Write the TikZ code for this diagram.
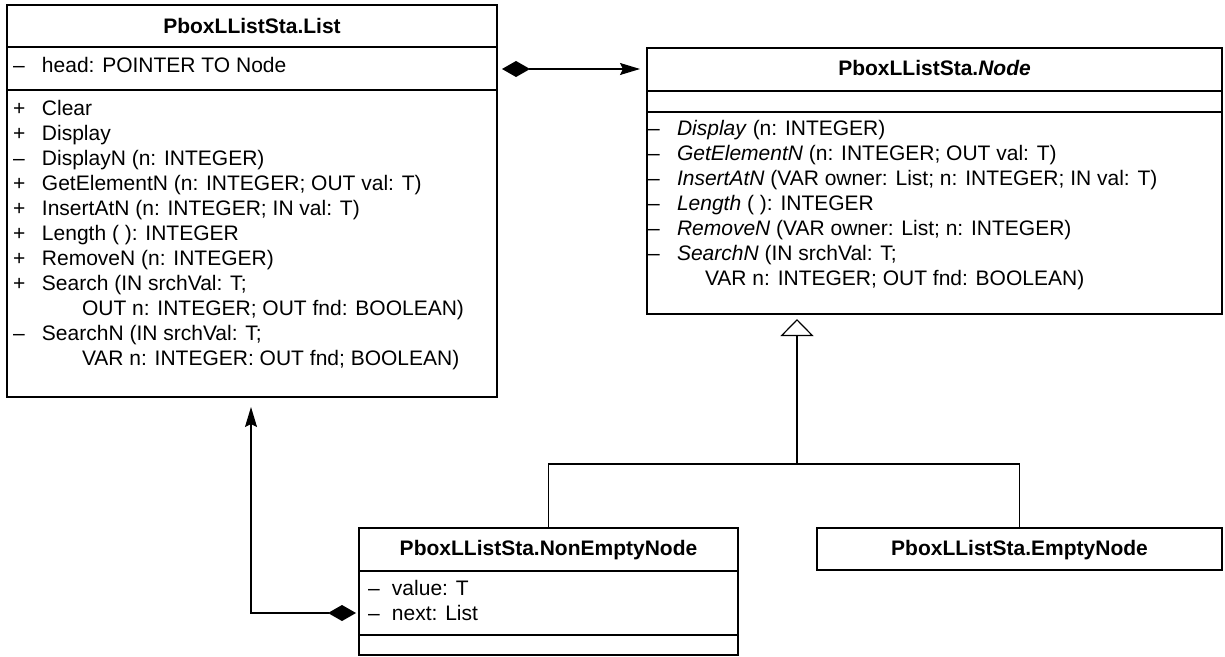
\documentclass[tikz,border=0pt]{standalone}
\usepackage{fontspec}
\setmainfont{Liberation Sans}
\usetikzlibrary{arrows.meta}
\newcommand\mdash{\textendash}
\begin{document}
\begin{tikzpicture}[x=1pt,y=-1pt,
  every node/.style={font=\fontsize{21}{25}\selectfont, inner sep=0pt, outer sep=0pt},
  box/.style={draw, line width=1.3pt, rectangle, inner sep=0pt, outer sep=0pt},
  rule/.style={line width=1.3pt},
  txt/.style={anchor=base west, align=left},
  ttl/.style={anchor=base, font=\fontsize{21}{25}\selectfont\bfseries},
  link/.style={line width=1.2pt},
  comp/.style={link, {Diamond[length=28pt,width=16pt]}-{Stealth[length=20pt,width=12pt,inset=3pt]}},
  gen/.style={link, -{Triangle[open,length=17pt,width=33pt,fill=white]}}
]
\useasboundingbox (0,0) rectangle (1225,656);

% ---- class List ----
\node[box, minimum width=490pt, minimum height=392pt] (List) at (252,201) {};
\draw[rule] ([yshift=-42pt]List.north west) -- ([yshift=-42pt]List.north east);
\draw[rule] ([yshift=-85pt]List.north west) -- ([yshift=-85pt]List.north east);
\node[ttl] (ListT) at (252,33) {PboxLListSta.List};
\node[txt] (ListA) at (13,72) {\begin{tabular}[t]{@{}p{29pt}@{}l@{}}
\mdash & head: POINTER TO Node\end{tabular}};
\node[txt] (ListO) at (13,115) {\begin{tabular}[t]{@{}p{29pt}@{}l@{}}
+ & Clear\\
+ & Display\\
\mdash & DisplayN (n: INTEGER)\\
+ & GetElementN (n: INTEGER; OUT val: T)\\
+ & InsertAtN (n: INTEGER; IN val: T)\\
+ & Length ( ): INTEGER\\
+ & RemoveN (n: INTEGER)\\
+ & Search (IN srchVal: T;\\
  & \hspace*{40pt}OUT n: INTEGER; OUT fnd: BOOLEAN)\\
\mdash & SearchN (IN srchVal: T;\\
  & \hspace*{40pt}VAR n: INTEGER: OUT fnd; BOOLEAN)\end{tabular}};

% ---- abstract class Node ----
\node[box, minimum width=575pt, minimum height=266pt] (Node) at (934.5,181) {};
\draw[rule] ([yshift=-43pt]Node.north west) -- ([yshift=-43pt]Node.north east);
\draw[rule] ([yshift=-64pt]Node.north west) -- ([yshift=-64pt]Node.north east);
\node[ttl] (NodeT) at (934.5,75) {PboxLListSta.\textit{Node}};
\node[txt] (NodeO) at (648,135) {\begin{tabular}[t]{@{}p{29pt}@{}l@{}}
\mdash & \textit{Display} (n: INTEGER)\\
\mdash & \textit{GetElementN} (n: INTEGER; OUT val: T)\\
\mdash & \textit{InsertAtN} (VAR owner: List; n: INTEGER; IN val: T)\\
\mdash & \textit{Length} ( ): INTEGER\\
\mdash & \textit{RemoveN} (VAR owner: List; n: INTEGER)\\
\mdash & \textit{SearchN} (IN srchVal: T;\\
  & \hspace*{28pt}VAR n: INTEGER; OUT fnd: BOOLEAN)\end{tabular}};

% ---- class NonEmptyNode ----
\node[box, minimum width=379pt, minimum height=127pt] (NonEmpty) at (548.5,591.5) {};
\draw[rule] ([yshift=-43pt]NonEmpty.north west) -- ([yshift=-43pt]NonEmpty.north east);
\draw[rule] ([yshift=-107pt]NonEmpty.north west) -- ([yshift=-107pt]NonEmpty.north east);
\node[ttl] (NonEmptyT) at (548.5,555) {PboxLListSta.NonEmptyNode};
\node[txt] (NonEmptyA) at (368,595) {\begin{tabular}[t]{@{}p{24pt}@{}l@{}}
\mdash & value: T\\
\mdash & next: List\end{tabular}};

% ---- class EmptyNode ----
\node[box, minimum width=405pt, minimum height=42pt] (Empty) at (1019.5,549) {};
\node[ttl] (EmptyT) at (1019.5,555) {PboxLListSta.EmptyNode};

% ---- relations ----
\coordinate (hd) at (0,69);
\draw[comp, shorten <=5pt, shorten >=7pt] (List.east |- hd) -- (Node.west |- hd);

\coordinate (J) at (797,464);
\draw[link] (NonEmpty.north) |- (J) -| (Empty.north);
\draw[gen, shorten >=5pt] (J) -- (J |- Node.south);

\coordinate (B) at (251,613);
\draw[comp, shorten <=3pt, shorten >=10pt] (NonEmpty.west |- B) -- (B) -- (B |- List.south);
\end{tikzpicture}
\end{document}
